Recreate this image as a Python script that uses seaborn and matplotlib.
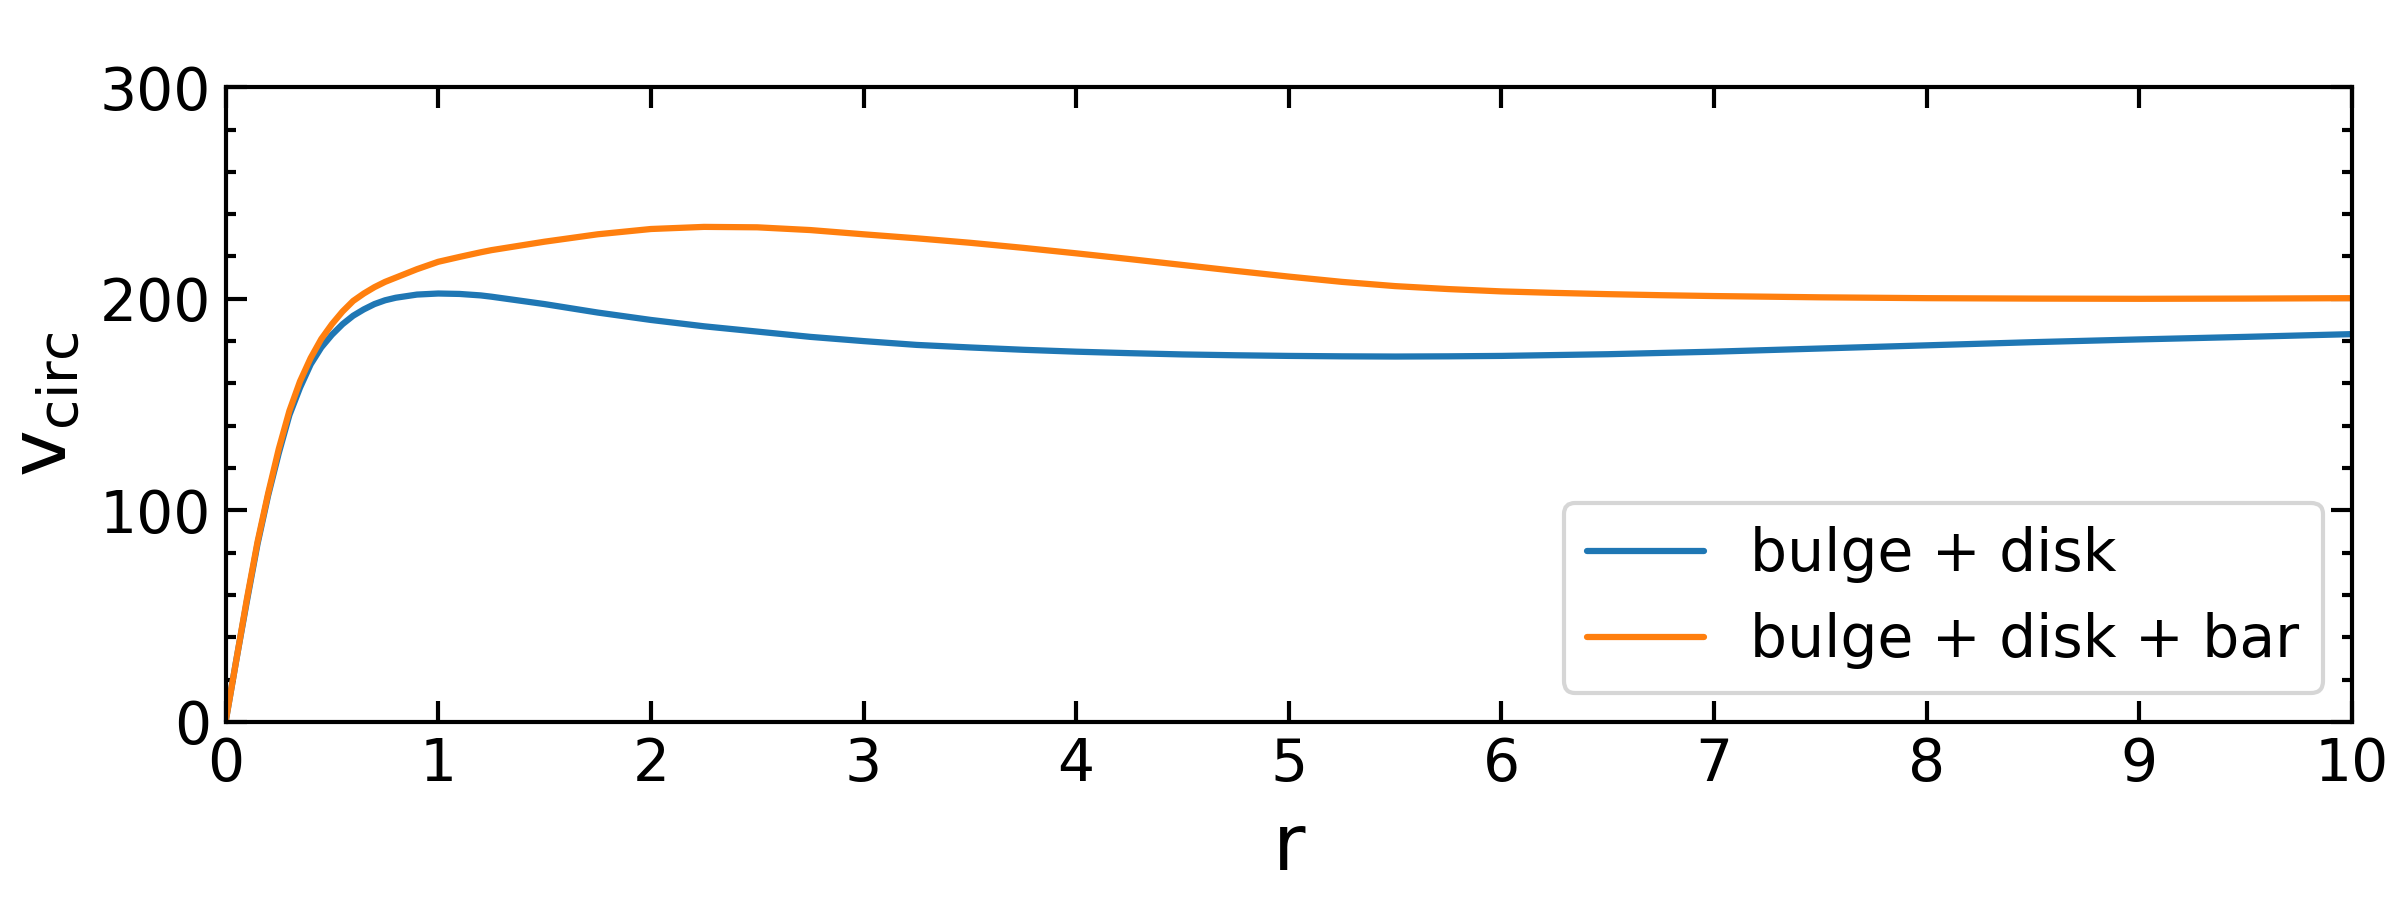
import numpy as np
import pandas as pd
import matplotlib
matplotlib.use("Agg")
import matplotlib.pyplot as plt
from matplotlib.ticker import MultipleLocator
import seaborn as sns

# radius values
r = [0, 0.05, 0.1, 0.15, 0.2, 0.25, 0.3, 0.35, 0.4, 0.45, 0.5, 0.55, 0.6, 0.65, 0.7, 0.75,
     0.8, 0.9, 1.0, 1.1, 1.2, 1.25, 1.5, 1.75, 2.0, 2.25, 2.5, 2.75, 3.0, 3.25, 3.5, 3.75,
     4.0, 4.25, 4.5, 4.75, 5.0, 5.25, 5.5, 5.75, 6.0, 6.25, 6.5, 6.75, 7.0, 7.5, 8.0,
     8.5, 9.0, 9.5, 10.0]

v_bulge_disk = [0, 29, 57, 84, 107, 127, 145, 158, 169, 177, 183, 188, 192, 195, 197.5, 199.3,
                200.5, 202, 202.5, 202.3, 201.6, 201, 197.5, 193.5, 190, 187, 184.5, 182, 180, 178.2, 177, 175.9,
                175, 174.3, 173.7, 173.3, 173, 172.8, 172.7, 172.8, 173, 173.4, 173.8, 174.4, 175, 176.5, 178,
                179.5, 180.8, 182, 183.3]

v_bulge_disk_bar = [0, 29, 58, 85, 108, 129, 147, 161, 172, 181, 188, 194, 199, 202.5, 205.5, 208,
                    210, 214, 217.5, 219.8, 222, 223, 227, 230.5, 233, 234, 233.8, 232.5, 230.5, 228.6, 226.5, 224.1,
                    221.5, 218.8, 216, 213.2, 210.5, 208, 206, 204.6, 203.5, 202.8, 202.2, 201.7, 201.3, 200.7, 200.3,
                    200.1, 200, 200.1, 200.3]

labels = ["bulge + disk", "bulge + disk + bar"]

df = pd.concat([
    pd.DataFrame({"r": r, "v": v_bulge_disk, "model": labels[0]}),
    pd.DataFrame({"r": r, "v": v_bulge_disk_bar, "model": labels[1]}),
])

sns.set_style("ticks")
plt.rcParams["font.family"] = ["DejaVu Sans"]
plt.rcParams["mathtext.default"] = "regular"
plt.rcParams["text.color"] = "black"
plt.rcParams["axes.labelcolor"] = "black"
plt.rcParams["xtick.color"] = "black"
plt.rcParams["ytick.color"] = "black"

fig, ax = plt.subplots(figsize=(8, 3), dpi=300)
fig.subplots_adjust(left=0.094, right=0.98, top=0.903, bottom=0.198)

sns.lineplot(data=df, x="r", y="v", hue="model", palette=["#1f77b4", "#ff7f0e"],
             linewidth=1.5, ax=ax)

ax.set_xlim(0, 10)
ax.set_ylim(0, 300)
ax.xaxis.set_major_locator(MultipleLocator(1))
ax.yaxis.set_major_locator(MultipleLocator(100))
ax.yaxis.set_minor_locator(MultipleLocator(20))
ax.tick_params(which="both", direction="in", top=True, right=True, labelsize=14, width=1,
               colors="black")
ax.tick_params(which="major", length=5)
ax.tick_params(which="minor", length=2.5)
for s in ax.spines.values():
    s.set_linewidth(1)
    s.set_color("black")

ax.set_xlabel("r", fontsize=19)
ax.set_ylabel("v$_{\\rm circ}$", fontsize=19)

leg = ax.legend(loc="lower right", fontsize=14, frameon=True)
leg.set_title(None)

fig.savefig("out.png", dpi=300)
